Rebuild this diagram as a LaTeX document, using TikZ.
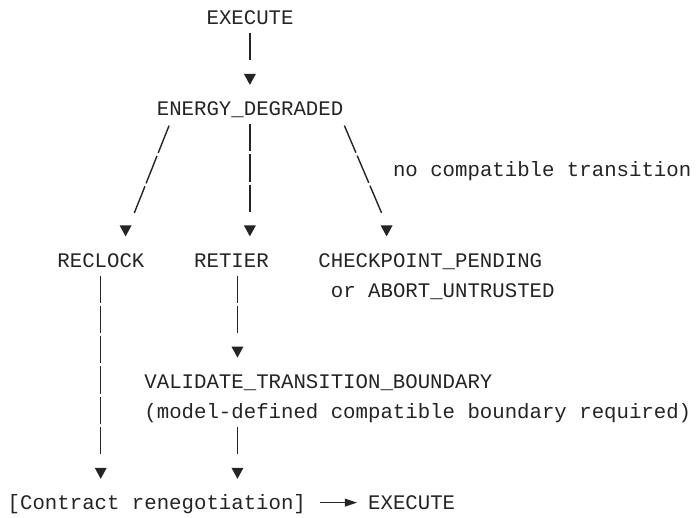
\documentclass[tikz,border=0pt]{standalone}
\usepackage{fontspec}
\usepackage{tikz}
\usetikzlibrary{arrows.meta, calc}
\newfontfamily\gridfont{Liberation Mono}
\definecolor{ink}{HTML}{242424}
\tikzset{
  st/.style   = {font=\gridfont\fontsize{20.71pt}{30.3pt}\selectfont, text=ink,
                 inner sep=0pt, anchor=west, text height=22pt, text depth=8.3pt},
  flow/.style = {draw=ink, line width=1.4pt, dash pattern=on 27.2pt off 3.1pt,
                 -{Triangle[length=11pt, width=12pt, line width=0pt]}},
  diag/.style = {flow, dash pattern=on 29.5pt off 3.2pt},
  hop/.style  = {draw=ink, line width=1.4pt,
                 -{Triangle[length=12pt, width=8pt, line width=0pt]},
                 shorten <=14.2pt, shorten >=11pt},
}

\begin{document}
\begin{tikzpicture}[x=12.43pt, y=-30.3pt]
  \useasboundingbox (-7.5pt,17.8pt) rectangle (688.5pt,-500.2pt);
  % one unit per character cell: x counts columns, y counts rows downwards
  \node[st] (exec)     at (16,0)  {EXECUTE};
  \node[st] (energy)   at (12,3)  {ENERGY\_DEGRADED};
  \node[st] (nocompat) at (31,5)  {no compatible transition};
  \node[st] (reclock)  at (4,8)   {RECLOCK};
  \node[st] (retier)   at (15,8)  {RETIER};
  \node[st] (ckpt)     at (25,8)  {CHECKPOINT\_PENDING};
  \node[st] (abort)    at (26,9)  {or ABORT\_UNTRUSTED};
  \node[st] (validate) at (11,12) {VALIDATE\_TRANSITION\_BOUNDARY};
  \node[st] (bound)    at (11,13) {(model-defined compatible boundary required)};
  \node[st] (renego)   at (0,16)  {[Contract renegotiation]};
  \node[st] (resume)   at (29,16) {EXECUTE};

  % bars run down to the head row, the head is a short piece of its own
  \draw[flow] ($(exec.south west)+(3.5,0)$) -- ($(energy.north west)+(7.5,-1)$)
              ++(0,-10.85pt) -- ++(0,-11pt);
  \draw[flow] ($(energy.south west)+(7.5,0)$) -- ($(retier.north west)+(4.5,-1)$)
              ++(0,-10.85pt) -- ++(0,-11pt);
  \draw[diag] ($(energy.south west)+(1,0)+(0,-1.5pt)$) -- ($(reclock.north west)+(6.2,-1)+(0,1.5pt)$)
              ($(reclock.north west)+(5.5,-1)$) ++(0,-10.85pt) -- ++(0,-11pt);
  \draw[diag] ($(energy.south west)+(15.1,0)+(0,-1.5pt)$) -- ($(ckpt.north west)+(5.1,-1)+(0,1.5pt)$)
              ($(ckpt.north west)+(5.5,-1)$) ++(0,-10.85pt) -- ++(0,-11pt);
  \draw[flow] ($(retier.south west)+(3.5,0)$) -- ($(validate.north west)+(7.5,-1)$)
              ++(0,-10.85pt) -- ++(0,-11pt);
  \draw[flow] ($(bound.south west)+(7.5,0)$) -- ($(renego.north west)+(18.5,-1)$)
              ++(0,-10.85pt) -- ++(0,-11pt);
  \draw[flow] ($(reclock.south west)+(3.5,0)$) -- ($(renego.north west)+(7.5,-1)$)
              ++(0,-10.85pt) -- ++(0,-11pt);
  \draw[hop] (renego) -- (resume);
\end{tikzpicture}
\end{document}
